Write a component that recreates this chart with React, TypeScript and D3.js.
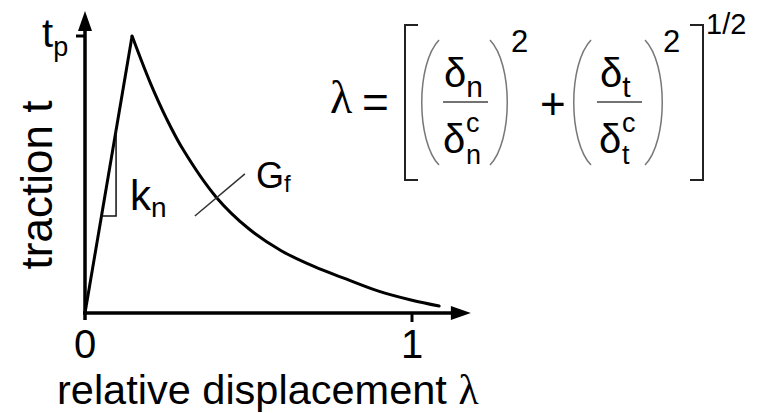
import React from "react";
import * as d3 from "d3";

// Cohesive law: linear rise to the peak traction, then exponential-like softening
const riseLambda = [0, 0.144];
const riseTraction = [0, 1.0];
const softLambda = [0.144, 0.2, 0.25, 0.3, 0.4, 0.5, 0.6, 0.7, 0.8, 0.9, 1.0, 1.083];
const softTraction = [1.0, 0.83, 0.7, 0.59, 0.42, 0.305, 0.225, 0.168, 0.122, 0.078, 0.046, 0.025];

const xTickValues = [0, 1];
const xTickLabels = ["0", "1"];
const yTickValue = 1;

const W = 763;
const H = 413;

const SANS = "'Liberation Sans', Arial, Helvetica, sans-serif";
const SERIF = "'Liberation Serif', 'Times New Roman', serif";

export default function App() {
  const x = d3.scaleLinear().domain([0, 1]).range([85, 412]);
  const y = d3.scaleLinear().domain([0, 1]).range([313, 36]);

  const line = d3
    .line<[number, number]>()
    .x((d) => x(d[0]))
    .y((d) => y(d[1]));
  const smooth = d3
    .line<[number, number]>()
    .x((d) => x(d[0]))
    .y((d) => y(d[1]))
    .curve(d3.curveCatmullRom.alpha(0.5));

  const rise = riseLambda.map((l, i) => [l, riseTraction[i]] as [number, number]);
  const soft = softLambda.map((l, i) => [l, softTraction[i]] as [number, number]);

  // axis extents
  const x0 = x(0);
  const y0 = y(0);
  const xEnd = x(1.18);
  const yEnd = y(1.09);

  // stiffness triangle on the rising branch
  const triX = 0.095;
  const triY = 0.35;
  const slope = riseTraction[1] / riseLambda[1];
  const triLeft = triY / slope;
  const triTop = triX * slope;

  return (
    <svg
      width={W}
      height={H}
      style={{ position: "absolute", left: 0, top: 0, background: "#fff" }}
    >
      {/* axes */}
      <line x1={x0} y1={y0 + 7} x2={x0} y2={yEnd + 18} stroke="#000" strokeWidth={3.5} />
      <path d={`M${x0},${yEnd} L${x0 - 7},${yEnd + 20} L${x0 + 7},${yEnd + 20} Z`} fill="#000" />
      <line x1={x0 - 2} y1={y0} x2={xEnd - 18} y2={y0} stroke="#000" strokeWidth={3.5} />
      <path d={`M${xEnd},${y0} L${xEnd - 20},${y0 - 7} L${xEnd - 20},${y0 + 7} Z`} fill="#000" />

      {/* ticks */}
      <line x1={x(1)} y1={y0} x2={x(1)} y2={y0 + 9} stroke="#000" strokeWidth={3} />
      <line x1={x0 - 9} y1={y(yTickValue)} x2={x0} y2={y(yTickValue)} stroke="#000" strokeWidth={3} />
      {xTickValues.map((v, i) => (
        <text
          key={v}
          x={x(v)}
          y={358}
          textAnchor="middle"
          fontFamily={SANS}
          fontSize={40}
          fill="#000"
        >
          {xTickLabels[i]}
        </text>
      ))}

      {/* t_p label */}
      <text x={42} y={47} fontFamily={SANS} fontSize={40} fill="#000">
        t
        <tspan fontSize={27} dy={9}>p</tspan>
      </text>

      {/* axis titles */}
      <text x={57} y={404} fontFamily={SANS} fontSize={41.5} fill="#000">
        relative displacement <tspan fontFamily={SERIF}>λ</tspan>
      </text>
      <text
        transform="translate(52,185) rotate(-90)"
        textAnchor="middle"
        fontFamily={SANS}
        fontSize={44}
        fill="#000"
      >
        traction t
      </text>

      {/* traction-separation curve */}
      <path d={line(rise) ?? ""} fill="none" stroke="#000" strokeWidth={3} />
      <path d={smooth(soft) ?? ""} fill="none" stroke="#000" strokeWidth={3} strokeLinecap="round" />

      {/* stiffness triangle */}
      <path
        d={`M${x(triX)},${y(triTop)} L${x(triX)},${y(triY)} L${x(triLeft)},${y(triY)}`}
        fill="none"
        stroke="#111"
        strokeWidth={1.5}
      />
      <text x={130} y={210} fontFamily={SANS} fontSize={42} fill="#000">
        k<tspan fontSize={28} dy={7}>n</tspan>
      </text>

      {/* fracture energy label */}
      <line x1={x(0.336)} y1={y(0.35)} x2={x(0.489)} y2={y(0.502)} stroke="#333" strokeWidth={1.5} />
      <text x={256} y={188} fontFamily={SANS} fontSize={36} fill="#000">
        G<tspan fontSize={24} dy={4}>f</tspan>
      </text>

      {/* effective separation formula */}
      <g fill="#000">
        <text x={330} y={113} fontFamily={SERIF} fontSize={46}>λ</text>
        <text x={362} y={118} fontFamily={SANS} fontSize={46}>=</text>

        {/* brackets */}
        <path d="M418,25 L405,25 L405,180 L418,180" fill="none" stroke="#222" strokeWidth={2} />
        <path d="M690,25 L703,25 L703,180 L690,180" fill="none" stroke="#222" strokeWidth={2} />

        {/* parentheses */}
        <path d="M439,40 C416,64 416,141 439,165" fill="none" stroke="#777" strokeWidth={1.5} />
        <path d="M490,40 C513,64 513,141 490,165" fill="none" stroke="#777" strokeWidth={1.5} />
        <path d="M591,40 C568,64 568,141 591,165" fill="none" stroke="#777" strokeWidth={1.5} />
        <path d="M645,40 C668,64 668,141 645,165" fill="none" stroke="#777" strokeWidth={1.5} />

        {/* normal fraction */}
        <text x={444} y={87} fontFamily={SANS} fontSize={40}>
          δ<tspan fontSize={30} dy={10}>n</tspan>
        </text>
        <line x1={443} y1={102} x2={488} y2={102} stroke="#444" strokeWidth={1.5} />
        <text x={443} y={153} fontFamily={SANS} fontSize={40}>δ</text>
        <text x={466} y={132} fontFamily={SANS} fontSize={27}>c</text>
        <text x={466} y={164} fontFamily={SANS} fontSize={27}>n</text>
        <text x={511} y={52} fontFamily={SANS} fontSize={31}>2</text>

        <text x={540} y={119} fontFamily={SANS} fontSize={44}>+</text>

        {/* tangential fraction */}
        <text x={600} y={87} fontFamily={SANS} fontSize={40}>
          δ<tspan fontSize={30} dy={10}>t</tspan>
        </text>
        <line x1={597} y1={102} x2={642} y2={102} stroke="#444" strokeWidth={1.5} />
        <text x={599} y={153} fontFamily={SANS} fontSize={40}>δ</text>
        <text x={622} y={132} fontFamily={SANS} fontSize={27}>c</text>
        <text x={622} y={164} fontFamily={SANS} fontSize={27}>t</text>
        <text x={663} y={52} fontFamily={SANS} fontSize={31}>2</text>

        <text x={706} y={34} fontFamily={SANS} fontSize={29}>1/2</text>
      </g>
    </svg>
  );
}
